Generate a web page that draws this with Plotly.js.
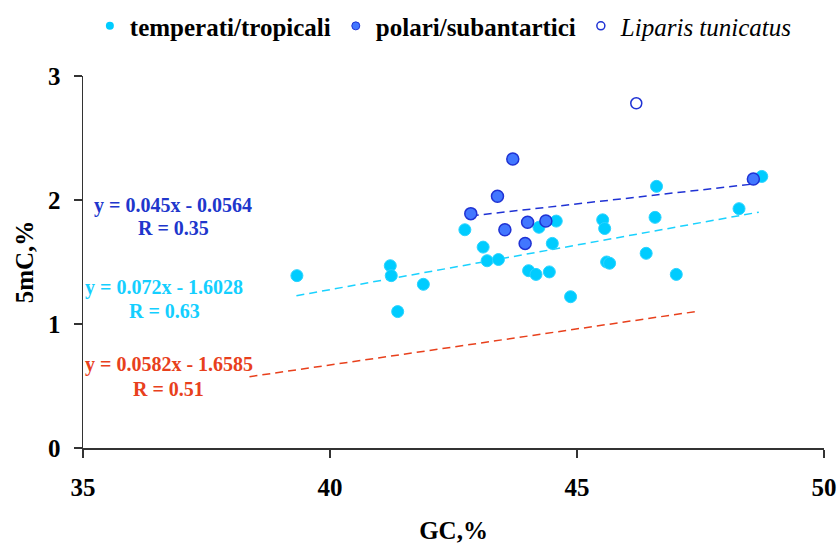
<!DOCTYPE html>
<html>
<head>
<meta charset="utf-8">
<script src="https://cdn.plot.ly/plotly-3.0.1.min.js"></script>
<style>html,body{margin:0;padding:0;background:#fff;}#chart{width:837px;height:544px;}</style>
</head>
<body>
<div id="chart"></div>
<script>
// temperati/tropicali
const tempGC  = [39.33,41.22,41.24,41.37,41.89,42.73,43.10,43.18,43.41,44.02,44.17,44.23,44.44,44.50,44.58,44.87,45.52,45.56,45.60,45.66,46.40,46.58,46.61,47.01,48.28,48.74];
const temp5mC = [1.39,1.47,1.39,1.10,1.32,1.76,1.62,1.51,1.52,1.43,1.40,1.78,1.42,1.65,1.83,1.22,1.84,1.77,1.50,1.49,1.57,1.86,2.11,1.40,1.93,2.19];
// polari/subantartici
const polGC  = [42.85,43.39,43.70,43.54,43.95,44.00,44.37,48.57];
const pol5mC = [1.89,2.03,2.33,1.76,1.65,1.82,1.83,2.17];
// Liparis tunicatus
const lipGC  = [46.20];
const lip5mC = [2.78];
// trend line endpoints
const polTrendGC  = [42.85,48.57];
const polTrend5mC = [1.872,2.129];
const tempTrendGC  = [39.32,48.68];
const tempTrend5mC = [1.228,1.902];
const allTrendGC  = [38.37,47.47];
const allTrend5mC = [0.575,1.104];
const xTicks = [35,40,45,50];
const yTicks = [0,1,2,3];

const cCyan = '#00ccff', cBlue = '#1f32d4', cBlueFill = '#4277ff', cRed = '#e8401c';
const serif = 'Liberation Serif';

const traces = [
  {x: allTrendGC, y: allTrend5mC, mode:'lines', line:{color:cRed, width:1.5, dash:'8px,5px'}, showlegend:false, hoverinfo:'skip'},
  {x: tempTrendGC, y: tempTrend5mC, mode:'lines', line:{color:'#1ad2ff', width:1.5, dash:'8px,5px'}, showlegend:false, hoverinfo:'skip'},
  {x: polTrendGC, y: polTrend5mC, mode:'lines', line:{color:cBlue, width:1.5, dash:'8px,5px'}, showlegend:false, hoverinfo:'skip'},
  {x: tempGC, y: temp5mC, mode:'markers', marker:{size:12, color:cCyan, line:{color:'#2ad4ff', width:1}}, showlegend:false},
  {x: polGC, y: pol5mC, mode:'markers', marker:{size:12, color:cBlueFill, line:{color:cBlue, width:1.5}}, showlegend:false},
  {x: lipGC, y: lip5mC, mode:'markers', marker:{size:11, color:'#ffffff', line:{color:cBlue, width:1.5}}, showlegend:false},
  // legend entries
  {x:[null], y:[null], mode:'markers', name:'<b>temperati/tropicali</b>', marker:{size:8, color:cCyan}},
  {x:[null], y:[null], mode:'markers', name:'<b>polari/subantartici</b>', marker:{size:8, color:cBlueFill, line:{color:cBlue, width:1}}},
  {x:[null], y:[null], mode:'markers', name:'<i>Liparis tunicatus</i>', marker:{size:8, color:'#ffffff', line:{color:cBlue, width:1.5}}}
];

function ann(x, y, text, color){
  return {x:x, y:y, xref:'x', yref:'y', text:'<b>'+text+'</b>', showarrow:false, xanchor:'center', yanchor:'middle', font:{family:serif, size:20, color:color}};
}

const layout = {
  width:837, height:544,
  margin:{l:82.5, r:13, t:76, b:95.7},
  paper_bgcolor:'#fff', plot_bgcolor:'#fff',
  font:{family:serif, size:24, color:'#000'},
  showlegend:true,
  legend:{orientation:'h', x:0.487, xanchor:'center', yref:'container', y:0.952, yanchor:'middle', font:{family:serif, size:25, color:'#000'}, itemwidth:30, bgcolor:'rgba(0,0,0,0)'},
  xaxis:{range:[35,50], tickvals:xTicks, ticktext:xTicks.map(v=>'<b>'+v+'</b>'), ticks:'outside', ticklen:8, tickcolor:'#333', tickwidth:1.3,
         showline:true, linecolor:'#333', linewidth:1.5, showgrid:false, zeroline:false, ticklabelstandoff:8,
         tickfont:{family:serif, size:25, color:'#000'},
         title:{text:'<b>GC,%</b>', font:{family:serif, size:25, color:'#000'}, standoff:22}},
  yaxis:{range:[0,3], tickvals:yTicks, ticktext:yTicks.map(v=>'<b>'+v+'</b>'), ticks:'outside', ticklen:8, tickcolor:'#333', tickwidth:1.3,
         showline:true, linecolor:'#333', linewidth:1.5, showgrid:false, zeroline:false, ticklabelstandoff:8,
         tickfont:{family:serif, size:25, color:'#000'},
         title:{text:'<b>5mC,%</b>', font:{family:serif, size:25, color:'#000'}, standoff:7}},
  annotations:[
    ann(36.831,1.955,'y = 0.045x - 0.0564','#2036cc'),
    ann(36.831,1.775,'R = 0.35','#2036cc'),
    ann(36.649,1.292,'y = 0.072x - 1.6028','#14cfff'),
    ann(36.659,1.101,'R = 0.63','#14cfff'),
    ann(36.750,0.671,'y = 0.0582x - 1.6585','#e8401c'),
    ann(36.740,0.478,'R = 0.51','#e8401c')
  ]
};

Plotly.newPlot('chart', traces, layout, {displayModeBar:false, staticPlot:true});
</script>
</body>
</html>
